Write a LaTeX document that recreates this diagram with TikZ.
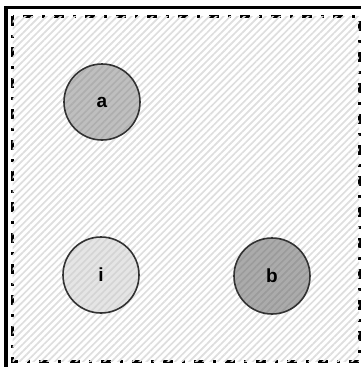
\documentclass[tikz,border=0pt]{standalone}
\usepackage{fontspec}
\setmainfont{Liberation Sans}
\usetikzlibrary{patterns.meta}
\definecolor{hatchgray}{RGB}{222,222,222}
\definecolor{rimgray}{RGB}{50,50,50}

\begin{document}
\begin{tikzpicture}[x=1pt,y=-1pt,
    zone/.style={line width=3pt,dash pattern=on 10pt off 9pt on 3pt off 9pt,
      fill=white,postaction={pattern={Lines[angle=45,distance=5pt,line width=1.7pt]},
      pattern color=hatchgray}},
    agent/.style={circle,draw=rimgray,line width=1.6pt,minimum size=76pt,inner sep=0pt,
      fill opacity=.5,text opacity=1,font=\fontsize{19}{22}\selectfont\bfseries}]
  \useasboundingbox (0,0) rectangle (361,367);
  \fill[white] (0,0) rectangle (361,367);
  \draw[line width=3.5pt] (6,367) |- (361,7.5);
  \draw[zone] (12.5,16) rectangle (359,361.5);
  \node[agent,fill=black!50] (a) at (102,102) {a};
  \node[agent,fill=black!20] (i) at (101,275) {i};
  \node[agent,fill=black!65] (b) at (272,276) {b};
\end{tikzpicture}
\end{document}
